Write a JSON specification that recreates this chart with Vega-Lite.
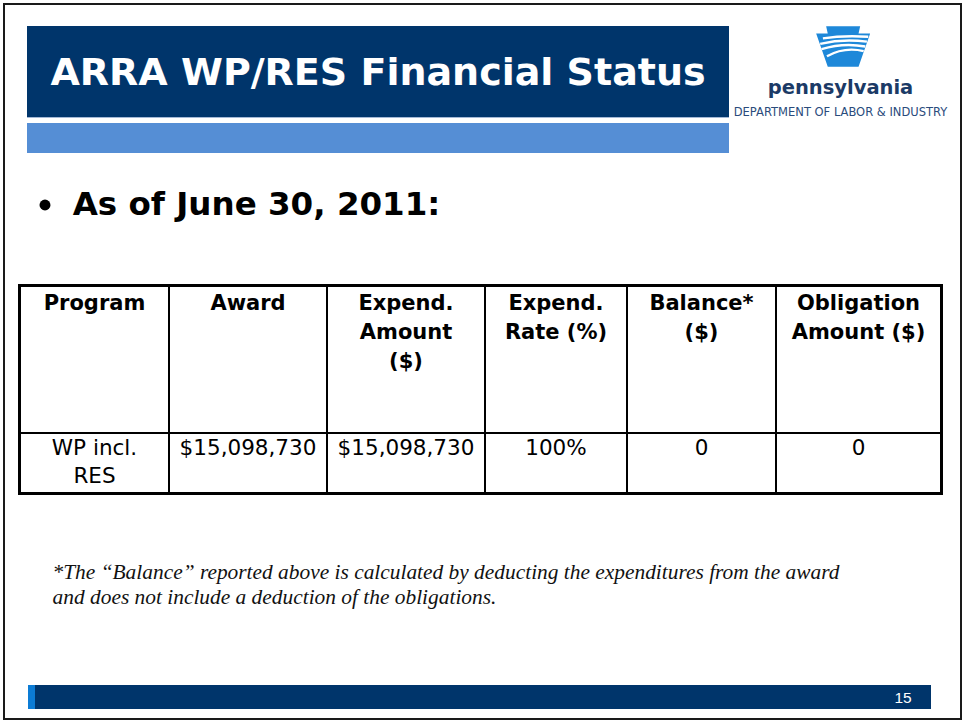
{
"$schema":"https://vega.github.io/schema/vega-lite/v6.json",
"background":"white",
"padding":{"left":3,"top":3,"right":3,"bottom":1},
"config":{"view":{"stroke":null},"text":{"font":"DejaVu Sans"},"concat":{"spacing":0}},
"datasets":{
 "columns":[
  {"key":"program","label":"Program"},
  {"key":"award","label":"Award"},
  {"key":"expend_amount","label":"Expend.\nAmount\n($)"},
  {"key":"expend_rate","label":"Expend.\nRate (%)"},
  {"key":"balance","label":"Balance*\n($)"},
  {"key":"obligation","label":"Obligation\nAmount ($)"}
 ],
 "financials":[
  {"program":"WP incl.\nRES","award":15098730,"expend_amount":15098730,"expend_rate":1,"balance":0,"obligation":0}
 ],
 "none":[]
},
"spacing":0,
"vconcat":[
 {"width":959,"height":2,"view":{"fill":"#1a1a1a","stroke":null},"data":{"name":"none"},"mark":{"type":"text","text":""}},
 {"spacing":0,"hconcat":[
  {"width":2,"height":713,"view":{"fill":"#1a1a1a","stroke":null},"data":{"name":"none"},"mark":{"type":"text","text":""}},
  {"spacing":0,"vconcat":[
   {"width":955,"height":21,"data":{"name":"none"},"mark":{"type":"text","text":""}},
   {"spacing":0,"hconcat":[
    {"width":22,"height":127,"data":{"name":"none"},"mark":{"type":"text","text":""}},
    {"spacing":0,"bounds":"flush","vconcat":[
     {"width":702,"height":91,"view":{"fill":"#00356B","stroke":null},"data":{"values":[{"title":"ARRA WP/RES Financial Status"}]},
      "mark":{"type":"text","font":"DejaVu Sans","fontWeight":"bold","fontSize":38,"fill":"white","baseline":"alphabetic","dy":13.5},
      "encoding":{"text":{"field":"title","type":"nominal"}}},
     {"width":702,"height":1,"view":{"fill":"#A3B8D6","stroke":null},"data":{"name":"none"},"mark":{"type":"text","text":""}},
     {"width":702,"height":5,"data":{"name":"none"},"mark":{"type":"text","text":""}},
     {"width":702,"height":30,"view":{"fill":"#558ED5","stroke":null},"data":{"name":"none"},"mark":{"type":"text","text":""}}
    ]},
    {"spacing":0,"bounds":"flush","vconcat":[
     {"width":231,"height":41,"data":{"values":[{"emblem":"keystone"}]},"layer":[
      {"mark":{"type":"point","shape":"M -0.68 -0.75 L 0.58 -0.75 L 0.52 -0.48 L 0.95 -0.48 L 0.52 0.75 L -0.62 0.75 L -1.05 -0.48 L -0.62 -0.48 Z","size":2916,"filled":true,"color":"#1E88D9","opacity":1,"strokeWidth":0}},
      {"mark":{"type":"point","shape":"M -0.8 -0.3 Q -0.05 -0.42 0.88 -0.36 M -0.9 -0.1 Q -0.05 -0.3 0.83 -0.18 M -0.85 0.1 Q -0.05 -0.15 0.77 0 M -0.65 0.36 Q 0 0 0.71 0.17","size":2916,"filled":false,"color":"white","strokeWidth":2.4,"opacity":1}}
     ]},
     {"width":231,"height":86,"data":{"values":[{"name":"pennsylvania","dept":"DEPARTMENT OF LABOR & INDUSTRY"}]},"layer":[
      {"mark":{"type":"text","font":"DejaVu Sans","fontWeight":"bold","fontSize":19.5,"fill":"#1B3A66","baseline":"alphabetic","dy":-16,"dx":-4},"encoding":{"text":{"field":"name","type":"nominal"}}},
      {"mark":{"type":"text","font":"DejaVu Sans","fontSize":11.5,"fill":"#2A4B7C","baseline":"alphabetic","dy":6,"dx":-4},"encoding":{"text":{"field":"dept","type":"nominal"}}}
     ]}
    ]}
   ]},
   {"width":955,"height":32,"data":{"name":"none"},"mark":{"type":"text","text":""}},
   {"spacing":0,"bounds":"flush","hconcat":[
    {"width":33,"height":40,"data":{"name":"none"},"mark":{"type":"text","text":""}},
    {"width":14,"height":40,"data":{"values":[{"marker":"bullet"}]},"mark":{"type":"point","shape":"circle","filled":true,"size":120,"color":"black","opacity":1}},
    {"width":21,"height":40,"data":{"name":"none"},"mark":{"type":"text","text":""}},
    {"width":367,"height":40,"data":{"values":[{"point":"As of June 30, 2011:"}]},
     "mark":{"type":"text","font":"DejaVu Sans","fontWeight":"bold","fontSize":32.5,"fill":"black","baseline":"middle"},
     "encoding":{"text":{"field":"point","type":"nominal"}}}
   ]},
   {"width":955,"height":59,"data":{"name":"none"},"mark":{"type":"text","text":""}},
   {"spacing":0,"hconcat":[
    {"width":13,"height":211,"data":{"name":"none"},"mark":{"type":"text","text":""}},
    {"spacing":0,"vconcat":[
     {"width":925,"height":3,"view":{"fill":"black","stroke":null},"data":{"name":"none"},"mark":{"type":"text","text":""}},
     {"spacing":0,"bounds":"flush","hconcat":[
      {"width":3,"height":145,"view":{"fill":"black","stroke":null},"data":{"name":"none"},"mark":{"type":"text","text":""}},
      {"width":147,"height":145,"data":{"name":"columns"},"transform":[{"filter":"datum.key === 'program'"}],
       "mark":{"type":"text","fontWeight":"bold","fontSize":21,"lineBreak":"\n","lineHeight":29,"baseline":"alphabetic","dy":-49.5,"fill":"black"},
       "encoding":{"text":{"field":"label","type":"nominal"}}},
      {"width":2,"height":145,"view":{"fill":"black","stroke":null},"data":{"name":"none"},"mark":{"type":"text","text":""}},
      {"width":156,"height":145,"data":{"name":"columns"},"transform":[{"filter":"datum.key === 'award'"}],
       "mark":{"type":"text","fontWeight":"bold","fontSize":21,"lineBreak":"\n","lineHeight":29,"baseline":"alphabetic","dy":-49.5,"fill":"black"},
       "encoding":{"text":{"field":"label","type":"nominal"}}},
      {"width":2,"height":145,"view":{"fill":"black","stroke":null},"data":{"name":"none"},"mark":{"type":"text","text":""}},
      {"width":156,"height":145,"data":{"name":"columns"},"transform":[{"filter":"datum.key === 'expend_amount'"}],
       "mark":{"type":"text","fontWeight":"bold","fontSize":21,"lineBreak":"\n","lineHeight":29,"baseline":"alphabetic","dy":-49.5,"fill":"black"},
       "encoding":{"text":{"field":"label","type":"nominal"}}},
      {"width":2,"height":145,"view":{"fill":"black","stroke":null},"data":{"name":"none"},"mark":{"type":"text","text":""}},
      {"width":140,"height":145,"data":{"name":"columns"},"transform":[{"filter":"datum.key === 'expend_rate'"}],
       "mark":{"type":"text","fontWeight":"bold","fontSize":21,"lineBreak":"\n","lineHeight":29,"baseline":"alphabetic","dy":-49.5,"fill":"black"},
       "encoding":{"text":{"field":"label","type":"nominal"}}},
      {"width":2,"height":145,"view":{"fill":"black","stroke":null},"data":{"name":"none"},"mark":{"type":"text","text":""}},
      {"width":147,"height":145,"data":{"name":"columns"},"transform":[{"filter":"datum.key === 'balance'"}],
       "mark":{"type":"text","fontWeight":"bold","fontSize":21,"lineBreak":"\n","lineHeight":29,"baseline":"alphabetic","dy":-49.5,"fill":"black"},
       "encoding":{"text":{"field":"label","type":"nominal"}}},
      {"width":2,"height":145,"view":{"fill":"black","stroke":null},"data":{"name":"none"},"mark":{"type":"text","text":""}},
      {"width":163,"height":145,"data":{"name":"columns"},"transform":[{"filter":"datum.key === 'obligation'"}],
       "mark":{"type":"text","fontWeight":"bold","fontSize":21,"lineBreak":"\n","lineHeight":29,"baseline":"alphabetic","dy":-49.5,"fill":"black"},
       "encoding":{"text":{"field":"label","type":"nominal"}}},
      {"width":3,"height":145,"view":{"fill":"black","stroke":null},"data":{"name":"none"},"mark":{"type":"text","text":""}}
     ]},
     {"width":925,"height":2,"view":{"fill":"black","stroke":null},"data":{"name":"none"},"mark":{"type":"text","text":""}},
     {"spacing":0,"bounds":"flush","hconcat":[
      {"width":3,"height":58,"view":{"fill":"black","stroke":null},"data":{"name":"none"},"mark":{"type":"text","text":""}},
      {"width":147,"height":58,"data":{"name":"financials"},
       "mark":{"type":"text","fontSize":21.5,"lineBreak":"\n","lineHeight":28,"baseline":"alphabetic","dy":-8,"fill":"black"},
       "encoding":{"text":{"field":"program","type":"nominal"}}},
      {"width":2,"height":58,"view":{"fill":"black","stroke":null},"data":{"name":"none"},"mark":{"type":"text","text":""}},
      {"width":156,"height":58,"data":{"name":"financials"},
       "mark":{"type":"text","fontSize":21.5,"lineBreak":"\n","lineHeight":28,"baseline":"alphabetic","dy":-8,"fill":"black"},
       "encoding":{"text":{"field":"award","type":"quantitative","format":"$,.0f"}}},
      {"width":2,"height":58,"view":{"fill":"black","stroke":null},"data":{"name":"none"},"mark":{"type":"text","text":""}},
      {"width":156,"height":58,"data":{"name":"financials"},
       "mark":{"type":"text","fontSize":21.5,"lineBreak":"\n","lineHeight":28,"baseline":"alphabetic","dy":-8,"fill":"black"},
       "encoding":{"text":{"field":"expend_amount","type":"quantitative","format":"$,.0f"}}},
      {"width":2,"height":58,"view":{"fill":"black","stroke":null},"data":{"name":"none"},"mark":{"type":"text","text":""}},
      {"width":140,"height":58,"data":{"name":"financials"},
       "mark":{"type":"text","fontSize":21.5,"lineBreak":"\n","lineHeight":28,"baseline":"alphabetic","dy":-8,"fill":"black"},
       "encoding":{"text":{"field":"expend_rate","type":"quantitative","format":".0%"}}},
      {"width":2,"height":58,"view":{"fill":"black","stroke":null},"data":{"name":"none"},"mark":{"type":"text","text":""}},
      {"width":147,"height":58,"data":{"name":"financials"},
       "mark":{"type":"text","fontSize":21.5,"lineBreak":"\n","lineHeight":28,"baseline":"alphabetic","dy":-8,"fill":"black"},
       "encoding":{"text":{"field":"balance","type":"quantitative","format":",.0f"}}},
      {"width":2,"height":58,"view":{"fill":"black","stroke":null},"data":{"name":"none"},"mark":{"type":"text","text":""}},
      {"width":163,"height":58,"data":{"name":"financials"},
       "mark":{"type":"text","fontSize":21.5,"lineBreak":"\n","lineHeight":28,"baseline":"alphabetic","dy":-8,"fill":"black"},
       "encoding":{"text":{"field":"obligation","type":"quantitative","format":",.0f"}}},
      {"width":3,"height":58,"view":{"fill":"black","stroke":null},"data":{"name":"none"},"mark":{"type":"text","text":""}}
     ]},
     {"width":925,"height":3,"view":{"fill":"black","stroke":null},"data":{"name":"none"},"mark":{"type":"text","text":""}}
    ]}
   ]},
   {"width":955,"height":65,"data":{"name":"none"},"mark":{"type":"text","text":""}},
   {"spacing":0,"hconcat":[
    {"width":47,"height":50,"data":{"name":"none"},"mark":{"type":"text","text":""}},
    {"spacing":0,"bounds":"flush","vconcat":[
     {"width":788,"height":25,"data":{"values":[{"note":"*The “Balance” reported above is calculated by deducting the expenditures from the award"}]},
      "mark":{"type":"text","font":"Liberation Serif","fontStyle":"italic","fontSize":21.4,"fill":"#111111","baseline":"middle"},
      "encoding":{"text":{"field":"note","type":"nominal"}}},
     {"width":445,"height":25,"data":{"values":[{"note":"and does not include a deduction of the obligations."}]},
      "mark":{"type":"text","font":"Liberation Serif","fontStyle":"italic","fontSize":21.4,"fill":"#111111","baseline":"middle"},
      "encoding":{"text":{"field":"note","type":"nominal"}}}
    ]}
   ]},
   {"width":955,"height":75,"data":{"name":"none"},"mark":{"type":"text","text":""}},
   {"spacing":0,"bounds":"flush","hconcat":[
    {"width":23,"height":24,"data":{"name":"none"},"mark":{"type":"text","text":""}},
    {"width":7,"height":24,"view":{"fill":"#0C7CD5","stroke":null},"data":{"name":"none"},"mark":{"type":"text","text":""}},
    {"width":858,"height":24,"view":{"fill":"#00356B","stroke":null},"data":{"name":"none"},"mark":{"type":"text","text":""}},
    {"width":20,"height":24,"view":{"fill":"#00356B","stroke":null},"data":{"values":[{"page":15}]},
     "mark":{"type":"text","font":"Liberation Sans","fontSize":15.5,"fill":"white","baseline":"middle","dy":1},
     "encoding":{"text":{"field":"page","type":"quantitative"}}},
    {"width":18,"height":24,"view":{"fill":"#00356B","stroke":null},"data":{"name":"none"},"mark":{"type":"text","text":""}}
   ]},
   {"width":955,"height":9,"data":{"name":"none"},"mark":{"type":"text","text":""}}
  ]},
  {"width":2,"height":713,"view":{"fill":"#1a1a1a","stroke":null},"data":{"name":"none"},"mark":{"type":"text","text":""}}
 ]},
 {"width":959,"height":2,"view":{"fill":"#1a1a1a","stroke":null},"data":{"name":"none"},"mark":{"type":"text","text":""}}
]
}
